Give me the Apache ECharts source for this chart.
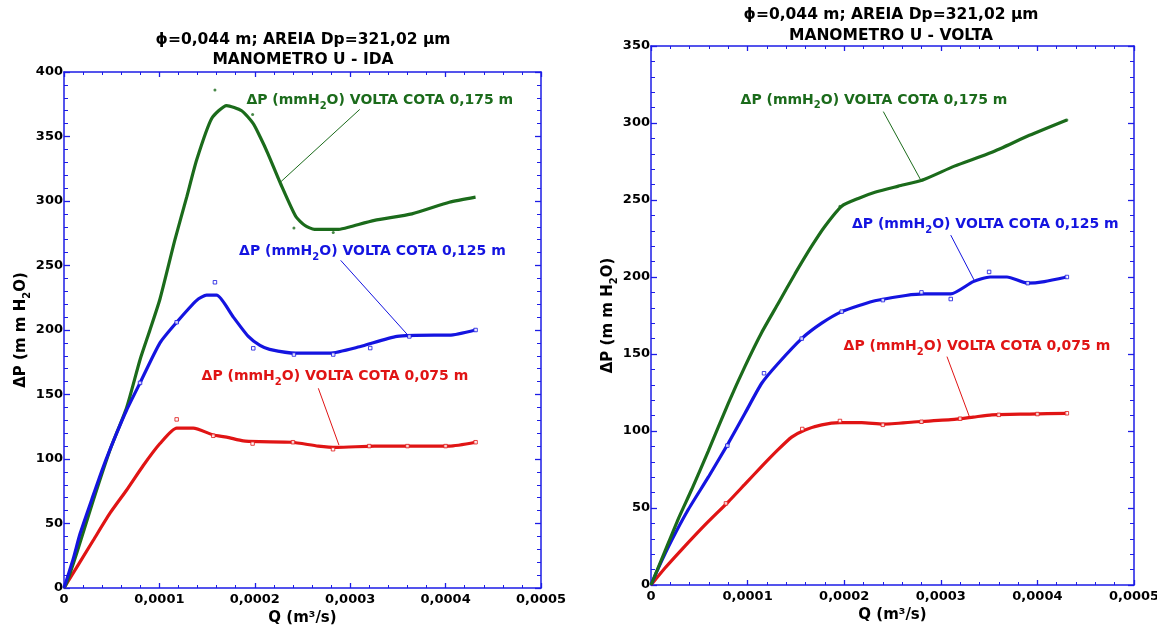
<!DOCTYPE html>
<html><head><meta charset="utf-8">
<script src="https://cdn.jsdelivr.net/npm/echarts@6/dist/echarts.min.js"></script>
<style>html,body{margin:0;padding:0;background:#fff}#c{width:1157px;height:629px}</style>
</head><body><div id="c"></div>
<script>
// ---------- DATA ----------
// Left chart: MANOMETRO U - IDA
const idaGreenQ  = [0,0.0000028,0.0000133,0.0000307,0.0000482,0.0000657,0.0000797,0.0000901,0.0001006,0.0001163,0.0001286,0.0001391,0.0001548,0.0001705,0.0001862,0.0001984,0.0002054,0.0002136,0.0002273,0.000243,0.0002526,0.0002626,0.000288,0.0003,0.0003254,0.0003647,0.0004039,0.0004314];
const idaGreenDP = [0,4,27,68,107,140,177,200,224,270,303,332,364,374,370,360,350,337,313,288,281,278,278,280,285,290,299,303];
const idaBlueQ   = [0,0.0000098,0.0000168,0.0000307,0.0000412,0.0000552,0.0000657,0.0000797,0.0001006,0.0001181,0.0001391,0.0001495,0.00016,0.0001775,0.0001932,0.0002054,0.0002155,0.000243,0.0002783,0.0003098,0.000349,0.0003882,0.0004039,0.0004314];
const idaBlueDP  = [0,23,42,72,94,120,138,159,190,206,223,227,227,210,195,188,185,182,182,187,195,196,196,200];
const idaRedQ    = [0,0.0000307,0.0000482,0.0000657,0.0000831,0.0001006,0.0001181,0.0001355,0.0001565,0.0001705,0.0001879,0.0002054,0.000239,0.0002666,0.0002862,0.0003254,0.0003647,0.0004039,0.0004314];
const idaRedDP   = [0,37,58,76,95,112,124,124,118.6,117,114,113.4,113,110,109,110,110,110,113];
const idaGreenPtQ  = [0.0001582,0.0001977,0.000241,0.0002822];
const idaGreenPtDP = [386,367,279,275.5];
const idaBluePtQ   = [0.0000797,0.0001181,0.0001582,0.0001984,0.000241,0.0002822,0.000321,0.000362,0.0004314];
const idaBluePtDP  = [159,206,237,185.8,181,181,186,195,200];
const idaRedPtQ    = [0.0001181,0.0001565,0.0001977,0.00024,0.000282,0.00032,0.00036,0.0004,0.0004314];
const idaRedPtDP   = [130.7,118,112,113,107.6,110,110,110,113];

// Right chart: MANOMETRO U - VOLTA
const voltaGreenQ  = [0,0.0000145,0.0000283,0.0000421,0.0000593,0.00008,0.0000973,0.0001146,0.0001318,0.000149,0.0001663,0.0001801,0.0001974,0.0002146,0.0002318,0.0002561,0.0002812,0.0003141,0.0003529,0.0003917,0.0004305];
const voltaGreenDP = [0,22,43,62,87,118,142,164,183,202,220,233,246,251,255,259,263,272,281,292,302];
const voltaBlueQ   = [0,0.0000076,0.0000214,0.0000386,0.0000593,0.00008,0.0000973,0.0001146,0.0001318,0.000156,0.0001767,0.0001974,0.0002181,0.0002318,0.0002637,0.0002832,0.0003103,0.0003336,0.000351,0.0003685,0.0003898,0.0004072,0.0004305];
const voltaBlueDP  = [0,11,29,49,70,92,111.5,131,144,160,170,177.5,182,184.6,188,189,189,197,200,200,196,197,200];
const voltaRedQ    = [0,0.0000145,0.0000318,0.0000559,0.00008,0.0000973,0.0001146,0.0001318,0.0001456,0.0001594,0.0001767,0.0001956,0.0002181,0.0002405,0.0002754,0.0003141,0.0003336,0.0003529,0.0003917,0.0004305];
const voltaRedDP   = [0,11,23,39,54,65.5,77,88,96,100.7,104,105.4,105.4,104.5,106,107.5,109,110.5,111,111.5];
const voltaGreenPtQ  = [0.0001956,0.000281,0.0004305];
const voltaGreenPtDP = [246,263,302];
const voltaBluePtQ   = [0.000079,0.000117,0.000156,0.0001974,0.00024,0.00028,0.0003103,0.00035,0.00039,0.0004305];
const voltaBluePtDP  = [90.5,137.5,160,177.5,185,190,185.7,203.3,196,200];
const voltaRedPtQ    = [0.0000776,0.0001566,0.0001956,0.00024,0.00028,0.00032,0.00036,0.0004,0.0004305];
const voltaRedPtDP   = [53,101.3,106.5,104,106,108,110.5,111,111.5];

const xTickValues = [0,0.0001,0.0002,0.0003,0.0004,0.0005];
const yTicksIda   = [0,50,100,150,200,250,300,350,400];
const yTicksVolta = [0,50,100,150,200,250,300,350];

const titleLine1 = 'ϕ=0,044 m; AREIA Dp=321,02 μm';
const titleIda   = 'MANOMETRO U - IDA';
const titleVolta = 'MANOMETRO U - VOLTA';
const xName = 'Q (m³/s)';
const labelGreen = '0,175 m', labelBlue = '0,125 m', labelRed = '0,075 m';

// ---------- CHART ----------
const FONT = '"DejaVu Sans", "Liberation Sans", Arial, sans-serif';
const AX = '#1c1ce6';
const GREEN = '#1b6b1b', BLUE = '#1414e0', RED = '#e01414';
const zip = (a,b) => a.map((v,i)=>[v,b[i]]);
const xFmt = v => (v === 0 ? '0' : v.toFixed(4).replace('.', ','));

function xAx(grid, pos, max) {
  return {
    type:'value', gridIndex:grid, position:pos, min:0, max:max, interval:0.0001,
    axisLine:{show:true, onZero:false, lineStyle:{color:AX, width:1.5}},
    axisTick:{show:true, inside:true, length:5, lineStyle:{color:AX, width:1.3}},
    minorTick:{show:true, splitNumber:5, length:3, lineStyle:{color:AX, width:1}},
    splitLine:{show:false},
    axisLabel:{show:pos==='bottom', formatter:xFmt, color:'#000', fontFamily:FONT, fontWeight:'bold', fontSize:13, margin:5, showMaxLabel:true, showMinLabel:true, hideOverlap:false},
    name: pos==='bottom' ? xName : '', nameLocation:'middle', nameGap:21,
    nameTextStyle:{color:'#000', fontFamily:FONT, fontWeight:'bold', fontSize:15}
  };
}
function yAx(grid, pos, max, gap) {
  return {
    type:'value', gridIndex:grid, position:pos, min:0, max:max, interval:50,
    axisLine:{show:true, onZero:false, lineStyle:{color:AX, width:1.5}},
    axisTick:{show:true, inside:true, length:6, lineStyle:{color:AX, width:1.3}},
    minorTick:{show:true, splitNumber:5, length:4, lineStyle:{color:AX, width:1}},
    splitLine:{show:false},
    axisLabel:{show:pos==='left', color:'#000', fontFamily:FONT, fontWeight:'bold', fontSize:13, margin:1, showMaxLabel:true, showMinLabel:true},
    name: pos==='left' ? '{a|ΔP (m m H}{s|2}{a|O)}' : '', nameLocation:'middle', nameGap:gap, nameRotate:90,
    nameTextStyle:{rich:{
      a:{color:'#000', fontFamily:FONT, fontWeight:'bold', fontSize:15, lineHeight:22, verticalAlign:'middle'},
      s:{color:'#000', fontFamily:FONT, fontWeight:'bold', fontSize:10, lineHeight:10, verticalAlign:'bottom'}
    }}
  };
}
function annot(color, cota, labelAt, from, to) {
  return {
    markPoint:{
      symbol:'circle', symbolSize:0, silent:true, animation:false,
      data:[{coord:labelAt}],
      label:{show:true, position:'inside', formatter:'{a|ΔP (mmH}{s|2}{a|O) VOLTA COTA ' + cota + '}',
        rich:{
          a:{color:color, fontFamily:FONT, fontWeight:'bold', fontSize:14, lineHeight:22, verticalAlign:'middle'},
          s:{color:color, fontFamily:FONT, fontWeight:'bold', fontSize:10, lineHeight:10, verticalAlign:'bottom'}
        }}
    },
    markLine:{
      symbol:['none','none'], silent:true, animation:false,
      lineStyle:{color:color, width:1, type:'solid'}, label:{show:false},
      data:[[{coord:from},{coord:to}]]
    }
  };
}
function lineS(xi, q, dp, color, extra) {
  return Object.assign({
    type:'line', xAxisIndex:xi, yAxisIndex:xi, data:zip(q,dp), showSymbol:false, symbol:'none',
    smooth:0.2, lineStyle:{color:color, width:3.2}, itemStyle:{color:color}, z:3
  }, extra);
}
function ptS(xi, q, dp, color, sym) {
  return {type:'scatter', xAxisIndex:xi, yAxisIndex:xi, data:zip(q,dp), symbol:sym, symbolSize:sym==='rect'?3.5:3,
    itemStyle: sym==='rect' ? {color:'#fff', borderColor:color, borderWidth:1} : {color:color}, z:4};
}

const TF = 'bold 15.5px ' + FONT;
const chart = echarts.init(document.getElementById('c'));
chart.setOption({
  animation:false,
  backgroundColor:'#fff',
  grid:[
    {left:64, top:72, width:477, height:516, containLabel:false, outerBoundsMode:'none'},
    {left:651, top:46, width:483, height:539, containLabel:false, outerBoundsMode:'none'}
  ],
  xAxis:[xAx(0,'bottom',0.0005), xAx(0,'top',0.0005), xAx(1,'bottom',0.0005), xAx(1,'top',0.0005)],
  yAxis:[yAx(0,'left',400,32), yAx(0,'right',400,0), yAx(1,'left',350,32), yAx(1,'right',350,0)],
  graphic:[
    {type:'text', x:303, y:40, style:{text:titleLine1, align:'center', verticalAlign:'middle', font:TF, fill:'#000'}},
    {type:'text', x:303, y:60, style:{text:titleIda, align:'center', verticalAlign:'middle', font:TF, fill:'#000'}},
    {type:'text', x:891, y:15, style:{text:titleLine1, align:'center', verticalAlign:'middle', font:TF, fill:'#000'}},
    {type:'text', x:891, y:36, style:{text:titleVolta, align:'center', verticalAlign:'middle', font:TF, fill:'#000'}}
  ],
  series:[
    lineS(0, idaRedQ, idaRedDP, RED, annot(RED, labelRed, [0.000284,163.8], [0.0002666,154.8], [0.0002882,110.8])),
    lineS(0, idaGreenQ, idaGreenDP, GREEN, annot(GREEN, labelGreen, [0.000331,378], [0.00031,371], [0.0002274,315])),
    lineS(0, idaBlueQ, idaBlueDP, BLUE, annot(BLUE, labelBlue, [0.0003233,260.6], [0.00029,254], [0.0003605,196])),
    ptS(0, idaGreenPtQ, idaGreenPtDP, GREEN, 'circle'),
    ptS(0, idaBluePtQ, idaBluePtDP, BLUE, 'rect'),
    ptS(0, idaRedPtQ, idaRedPtDP, RED, 'rect'),
    lineS(2, voltaRedQ, voltaRedDP, RED, annot(RED, labelRed, [0.0003374,155.2], [0.0003064,148.3], [0.0003296,109.3])),
    lineS(2, voltaBlueQ, voltaBlueDP, BLUE, annot(BLUE, labelBlue, [0.0003461,234.4], [0.0003103,227.2], [0.0003353,197])),
    lineS(2, voltaGreenQ, voltaGreenDP, GREEN, annot(GREEN, labelGreen, [0.0002308,315], [0.0002405,307.4], [0.0002792,263])),
    ptS(2, voltaGreenPtQ, voltaGreenPtDP, GREEN, 'circle'),
    ptS(2, voltaBluePtQ, voltaBluePtDP, BLUE, 'rect'),
    ptS(2, voltaRedPtQ, voltaRedPtDP, RED, 'rect')
  ]
});
</script>
</body></html>
